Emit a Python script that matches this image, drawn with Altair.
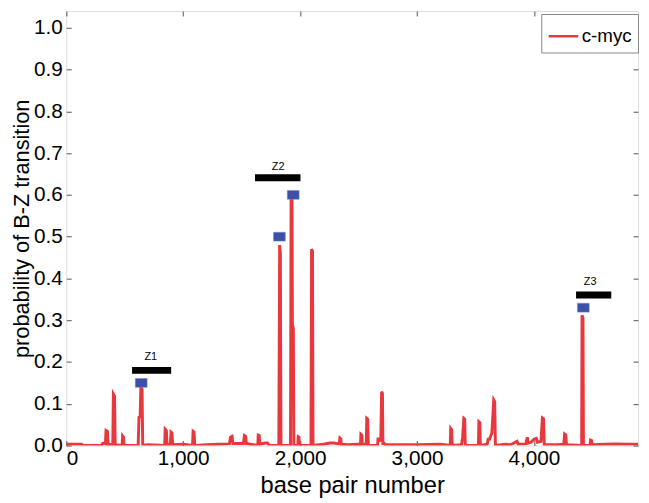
import altair as alt
import pandas as pd

# ---- data ----
bp = [0, 130, 150, 300, 310, 330,
      335, 340, 352, 358,
      398, 403, 413, 418,
      478, 482, 490, 494,
      615, 622, 632, 638, 648, 654,
      700, 842, 846, 856, 862,
      890, 896, 904, 910,
      1000, 1080, 1085, 1093, 1099,
      1200, 1300,
      1395, 1405, 1418, 1425,
      1515, 1524, 1534, 1540,
      1638, 1642, 1650, 1656,
      1700, 1720, 1740,
      1818, 1825, 1831, 1836,
      1918, 1923, 1930, 1934, 1942, 1946,
      1980, 1984, 1990, 1994,
      2093, 2098, 2106, 2110,
      2200, 2256, 2290, 2330,
      2335, 2340, 2348, 2352,
      2400, 2500,
      2516, 2520, 2528, 2532,
      2566, 2570, 2578, 2583,
      2663, 2666, 2680, 2690, 2697, 2704, 2708, 2720, 2730,
      2800, 3000, 3200,
      3284, 3288, 3296, 3300,
      3380, 3390, 3400, 3408, 3412,
      3525, 3529, 3537, 3541,
      3600, 3608, 3620, 3640, 3656, 3664, 3670,
      3760, 3800, 3855, 3865, 3930, 3943, 3950, 3975, 4000, 4020, 4030,
      4060, 4072, 4082, 4088,
      4200, 4255, 4262, 4272, 4278,
      4408, 4411, 4419, 4423,
      4480, 4484, 4492, 4496,
      4600, 4700, 4800, 4890]
prob = [0.003, 0.003, 0.0, 0.0, 0.005, 0.006,
        0.005, 0.036, 0.034, 0.003,
        0.002, 0.123, 0.118, 0.002,
        0.0, 0.023, 0.020, 0.0,
        0.0, 0.068, 0.070, 0.141, 0.135, 0.0,
        0.002, 0.0, 0.039, 0.036, 0.002,
        0.002, 0.032, 0.030, 0.002,
        0.003, 0.0, 0.034, 0.032, 0.0,
        0.002, 0.003,
        0.004, 0.020, 0.022, 0.005,
        0.005, 0.024, 0.022, 0.005,
        0.0, 0.025, 0.024, 0.003,
        0.006, 0.006, 0.0,
        0.0, 0.480, 0.460, 0.0,
        0.0, 0.600, 0.600, 0.290, 0.280, 0.0,
        0.0, 0.021, 0.020, 0.0,
        0.0, 0.470, 0.465, 0.0,
        0.003, 0.006, 0.006, 0.004,
        0.005, 0.018, 0.016, 0.003,
        0.002, 0.003,
        0.0, 0.027, 0.025, 0.003,
        0.003, 0.065, 0.063, 0.0,
        0.0, 0.016, 0.016, 0.010, 0.129, 0.125, 0.005, 0.005, 0.002,
        0.002, 0.002, 0.003,
        0.0, 0.041, 0.038, 0.0,
        0.002, 0.020, 0.065, 0.063, 0.0,
        0.0, 0.057, 0.055, 0.0,
        0.003, 0.015, 0.015, 0.030, 0.109, 0.105, 0.0,
        0.003, 0.002, 0.010, 0.003, 0.004, 0.020, 0.006, 0.008, 0.015, 0.017, 0.008,
        0.010, 0.066, 0.064, 0.002,
        0.002, 0.003, 0.028, 0.026, 0.002,
        0.0, 0.312, 0.305, 0.0,
        0.0, 0.013, 0.012, 0.002,
        0.003, 0.004, 0.003, 0.003]
series_name = ["c-myc"]

marker_bp = [641, 1823, 1941, 4422]
marker_prob = [0.15, 0.50, 0.60, 0.33]

zone_names = ["Z1", "Z2", "Z3"]
zone_start = [563, 1614, 4360]
zone_end = [897, 2003, 4661]
zone_level = [0.180, 0.641, 0.3605]
zone_label_bp = [723, 1812, 4481]
zone_label_prob = [0.213, 0.667, 0.391]

x_ticks = [0, 1000, 2000, 3000, 4000]
y_ticks = [0.0, 0.1, 0.2, 0.3, 0.4, 0.5, 0.6, 0.7, 0.8, 0.9, 1.0]

FONT = "Liberation Sans"
GRAY = "#6e6e6e"

line_df = pd.DataFrame({"bp": bp, "prob": prob, "series": series_name[0]})
mk_df = pd.DataFrame({"bp": marker_bp, "prob": marker_prob})
zone_df = pd.DataFrame({"name": zone_names, "start": zone_start, "end": zone_end,
                        "level": zone_level, "lbp": zone_label_bp, "lprob": zone_label_prob})

xscale = alt.Scale(domain=[0, 4890], nice=False, zero=False)
yscale = alt.Scale(domain=[0, 1.04], nice=False, zero=False)

line = alt.Chart(line_df).mark_line(strokeWidth=3, clip=True, interpolate="linear").encode(
    x=alt.X("bp:Q", scale=xscale, title="base pair number",
            axis=alt.Axis(values=x_ticks, format=",d", orient="bottom", offset=-5, tickSize=5,
                          tickColor=GRAY, tickWidth=1.2, domain=False, grid=False,
                          labelFontSize=21, labelFont=FONT, labelColor="black", labelPadding=2,
                          titleFontSize=24, titleFont=FONT, titleFontWeight="normal",
                          titleColor="black", titlePadding=6)),
    y=alt.Y("prob:Q", scale=yscale, title="probability of B-Z transition",
            axis=alt.Axis(values=y_ticks, format=".1f", orient="left", offset=-5, tickSize=5,
                          tickColor=GRAY, tickWidth=1.2, domain=False, grid=False,
                          labelFontSize=21, labelFont=FONT, labelColor="black", labelPadding=4,
                          titleFontSize=22, titleFont=FONT, titleFontWeight="normal",
                          titleColor="black", titlePadding=0)),
    color=alt.Color("series:N", scale=alt.Scale(domain=series_name, range=["#e8383d"]),
                    legend=alt.Legend(title=None, orient="none", legendX=481, legendY=3,
                                      strokeColor="#888888", fillColor="white", padding=6,
                                      symbolType="stroke", symbolSize=900, symbolStrokeWidth=2.5,
                                      labelFontSize=19, labelFont=FONT, labelColor="black",
                                      labelOffset=2, cornerRadius=0)),
)

markers = alt.Chart(mk_df).mark_point(
    shape="M-1,-0.75L1,-0.75L1,0.75L-1,0.75Z", size=144, filled=True, opacity=1,
    color="#3d4fa8", stroke="#8090d0", strokeWidth=0.5
).encode(
    x=alt.X("bp:Q", scale=xscale,
            axis=alt.Axis(values=x_ticks, orient="top", labels=False, title=None, offset=-5,
                          tickSize=5, tickColor=GRAY, tickWidth=1.2, domain=False, grid=False)),
    y=alt.Y("prob:Q", scale=yscale,
            axis=alt.Axis(values=y_ticks, orient="right", labels=False, title=None, offset=-5,
                          tickSize=5, tickColor=GRAY, tickWidth=1.2, domain=False, grid=False)),
)

bars = alt.Chart(zone_df).mark_rule(strokeWidth=7, color="black").encode(
    x=alt.X("start:Q", scale=xscale, axis=None),
    x2="end:Q",
    y=alt.Y("level:Q", scale=yscale, axis=None),
)

labels = alt.Chart(zone_df).mark_text(fontSize=11, font=FONT, color="black", baseline="middle").encode(
    x=alt.X("lbp:Q", scale=xscale, axis=None),
    y=alt.Y("lprob:Q", scale=yscale, axis=None),
    text="name:N",
)

chart = alt.layer(line, markers, bars, labels).resolve_axis(
    x="independent", y="independent"
).properties(
    width=579, height=440,
    autosize=alt.AutoSizeParams(type="none"),
    padding={"left": 59, "top": 0, "right": 3, "bottom": 50},
).configure_view(
    stroke=GRAY, strokeWidth=1.6
).configure(background="white")

chart.save("out.html", embed_options={"renderer": "svg", "actions": False})
